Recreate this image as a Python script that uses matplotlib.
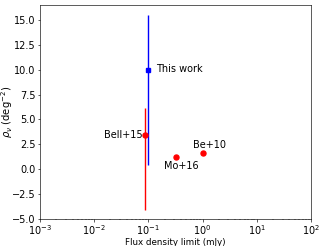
import matplotlib
matplotlib.use("Agg")
import matplotlib.pyplot as plt
import numpy as np

plt.rcParams.update({
    'font.size': 7,
    'axes.linewidth': 0.45,
    'xtick.major.size': 1.8, 'ytick.major.size': 1.8,
    'xtick.minor.size': 1.0, 'ytick.minor.size': 1.0,
    'xtick.major.width': 0.45, 'ytick.major.width': 0.45,
    'xtick.minor.width': 0.35, 'ytick.minor.width': 0.35,
    'xtick.major.pad': 1.2, 'ytick.major.pad': 1.4,
})

# This work
work_x = [0.1]
work_y = [10.0]
work_err_lo = [9.6]
work_err_hi = [5.5]

# Bell+15
bell_x = [0.087]
bell_y = [3.4]
bell_err_lo = [7.5]
bell_err_hi = [2.7]

# Other points
other_names = ["Mo+16", "Be+10"]
other_x = [0.32, 1.0]
other_y = [1.2, 1.6]

fig = plt.figure(figsize=(3.24, 2.46), dpi=100)
ax = fig.add_axes([0.123, 0.11, 0.837, 0.87])

ax.errorbar(work_x, work_y, yerr=[work_err_lo, work_err_hi], fmt='s', color='b',
            ms=3.2, elinewidth=1.0, ecolor='b')
ax.errorbar(bell_x, bell_y, yerr=[bell_err_lo, bell_err_hi], fmt='o', color='r',
            ms=3.6, elinewidth=1.0, ecolor='r')
ax.plot(other_x, other_y, 'o', color='r', ms=3.6)

ax.annotate("This work", (work_x[0], work_y[0]), xytext=(5.5, 0.5), textcoords='offset points',
            ha='left', va='center')
ax.annotate("Bell+15", (bell_x[0], bell_y[0]), xytext=(-1.5, 0.5), textcoords='offset points',
            ha='right', va='center')
ax.annotate(other_names[0], (other_x[0], other_y[0]), xytext=(4, -3), textcoords='offset points',
            ha='center', va='top')
ax.annotate(other_names[1], (other_x[1], other_y[1]), xytext=(5, 2), textcoords='offset points',
            ha='center', va='bottom')

ax.set_xscale('log')
ax.set_xlim(1e-3, 1e2)
ax.set_ylim(-5, 16.5)
ax.set_yticks(np.arange(-5, 15.1, 2.5))
ax.set_xlabel("Flux density limit (mJy)", fontsize=6.3, labelpad=0.5)
ax.set_ylabel(r"$\rho_\nu$ (deg$^{-2}$)", fontsize=7.2)
ax.yaxis.set_label_coords(-0.09, 0.5)

fig.savefig("out.png", dpi=100)
